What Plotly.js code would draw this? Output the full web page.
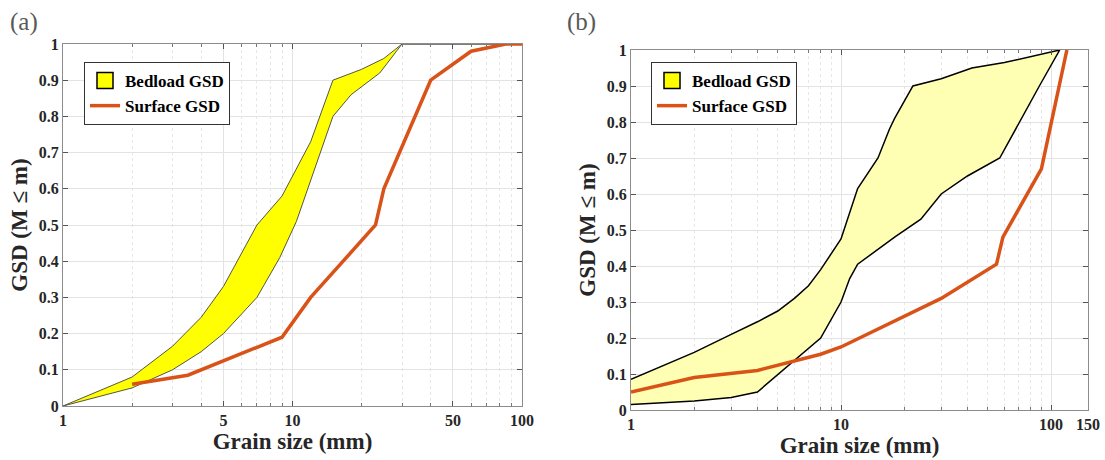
<!DOCTYPE html>
<html>
<head>
<meta charset="utf-8">
<script src="https://cdn.plot.ly/plotly-3.0.1.min.js"></script>
<style>html,body{margin:0;padding:0;background:#fff;}#chart{width:1105px;height:460px;}</style>
</head>
<body>
<div id="chart"></div>
<script>
// ---- Panel (a) data ----
const aUpperX = [1, 2, 3, 4, 5, 7, 9, 12, 15, 20, 25, 30, 100];
const aUpperY = [0, 0.08, 0.165, 0.245, 0.33, 0.5, 0.58, 0.73, 0.9, 0.93, 0.96, 1, 1];
const aLowerX = [1, 2, 3, 4, 5, 7, 8.8, 10.4, 15, 18, 24, 30, 100];
const aLowerY = [0, 0.05, 0.1, 0.15, 0.2, 0.3, 0.41, 0.51, 0.8, 0.86, 0.92, 1, 1];
const aSurfX = [2, 3.5, 9, 12, 23, 25, 40, 60, 85, 100];
const aSurfY = [0.06, 0.085, 0.19, 0.3, 0.5, 0.6, 0.9, 0.98, 1, 1];

// ---- Panel (b) data ----
const bUpperX = [1, 2, 3, 4, 5, 6, 7, 8, 10, 12, 15, 17, 18, 22, 30, 42, 60, 110];
const bUpperY = [0.085, 0.16, 0.21, 0.245, 0.275, 0.31, 0.345, 0.39, 0.475, 0.615, 0.70, 0.78, 0.81, 0.90, 0.92, 0.95, 0.965, 1];
const bLowerX = [1, 2, 3, 4, 8, 10, 11, 12, 18, 24, 30, 40, 57, 88, 110];
const bLowerY = [0.015, 0.025, 0.035, 0.05, 0.2, 0.3, 0.365, 0.405, 0.48, 0.53, 0.6, 0.65, 0.70, 0.9, 1];
const bSurfX = [1, 2, 4, 6, 8, 10, 30, 55, 59, 90, 119];
const bSurfY = [0.05, 0.09, 0.11, 0.135, 0.155, 0.175, 0.31, 0.405, 0.48, 0.67, 1];

// ---- Labels / ticks ----
const seriesNames = ["Bedload GSD", "Surface GSD"];
const panelLabels = ["(a)", "(b)"];
const xTitle = "Grain size (mm)";
const yTitle = "GSD (M \u2264 m)";
const aXTicks = [1, 5, 10, 50, 100];
const bXTicks = [1, 10, 100, 150];
const minorA = [2, 3, 4, 6, 7, 8, 9, 20, 30, 40, 60, 70, 80, 90];
const minorB = [2, 3, 4, 5, 6, 7, 8, 9, 20, 30, 40, 50, 60, 70, 80, 90];

function band(ux, uy, lx, ly) {
  return {
    x: ux.concat(lx.slice().reverse()),
    y: uy.concat(ly.slice().reverse())
  };
}

const orange = '#D95319';
const pa = band(aUpperX, aUpperY, aLowerX, aLowerY);
const pb = band(bUpperX, bUpperY, bLowerX, bLowerY);

function legendSquare(xa, ya, leg) {
  return {x: [null], y: [null], type: 'scatter', mode: 'markers', name: seriesNames[0],
          marker: {symbol: 'square', size: 17, color: '#FFFF00', line: {color: '#000', width: 1.5}},
          xaxis: xa, yaxis: ya, legend: leg, hoverinfo: 'skip'};
}

const traces = [
  {x: pa.x, y: pa.y, type: 'scatter', mode: 'lines', fill: 'toself',
   fillcolor: '#FFFF00', line: {color: '#55554a', width: 1}, name: seriesNames[0],
   xaxis: 'x', yaxis: 'y', showlegend: false, hoverinfo: 'skip'},
  legendSquare('x', 'y', 'legend'),
  {x: aSurfX, y: aSurfY, type: 'scatter', mode: 'lines',
   line: {color: orange, width: 3.5}, name: seriesNames[1],
   xaxis: 'x', yaxis: 'y', legend: 'legend'},
  {x: pb.x, y: pb.y, type: 'scatter', mode: 'lines', fill: 'toself',
   fillcolor: '#FFFFB3', line: {color: '#000000', width: 1.5}, name: seriesNames[0],
   xaxis: 'x2', yaxis: 'y2', showlegend: false, hoverinfo: 'skip'},
  legendSquare('x2', 'y2', 'legend2'),
  {x: bSurfX, y: bSurfY, type: 'scatter', mode: 'lines',
   line: {color: orange, width: 3.5}, name: seriesNames[1],
   xaxis: 'x2', yaxis: 'y2', legend: 'legend2'}
];

const tickFont = {family: 'Liberation Serif', size: 16, weight: 'bold', color: '#262626'};
const titleFont = {family: 'Liberation Serif', size: 23, weight: 'bold', color: '#262626'};
const legFont = {family: 'Liberation Serif', size: 17, weight: 'bold', color: '#000'};

function xAxis(domain, ticks, minorVals, rng, anchor) {
  return {
    type: 'log', domain: domain, range: rng, anchor: anchor,
    tickvals: ticks, ticktext: ticks.map(String),
    ticks: 'inside', ticklen: 5, tickcolor: '#555',
    showline: true, linecolor: '#8c8c8c', linewidth: 1, mirror: 'ticks',
    showgrid: true, gridcolor: '#e3e3e3', gridwidth: 1,
    minor: {tickvals: minorVals, ticks: 'inside', ticklen: 3, tickcolor: '#777',
            showgrid: true, gridcolor: '#e6e6e6', griddash: 'dot', gridwidth: 1},
    zeroline: false, tickfont: tickFont,
    title: {text: xTitle, font: titleFont, standoff: 4}
  };
}
function yAxis(domain, anchor) {
  return {
    domain: domain, range: [0, 1], anchor: anchor, dtick: 0.1, tick0: 0,
    ticks: 'inside', ticklen: 5, tickcolor: '#555',
    showline: true, linecolor: '#8c8c8c', linewidth: 1, mirror: 'ticks',
    showgrid: true, gridcolor: '#e3e3e3', gridwidth: 1,
    zeroline: false, tickfont: tickFont,
    title: {text: yTitle, font: titleFont, standoff: 4}
  };
}

const layout = {
  width: 1105, height: 460,
  margin: {l: 0, r: 0, t: 0, b: 0},
  paper_bgcolor: '#ffffff', plot_bgcolor: '#ffffff',
  showlegend: true,
  xaxis: xAxis([63/1105, 522/1105], aXTicks, minorA, [0, 2], 'y'),
  yaxis: yAxis([54/460, 416/460], 'x'),
  xaxis2: xAxis([631/1105, 1088/1105], bXTicks, minorB, [0, Math.log10(150)], 'y2'),
  yaxis2: yAxis([50/460, 410/460], 'x2'),
  legend: {x: 84/1105, y: 398/460, xanchor: 'left', yanchor: 'top',
           bgcolor: '#ffffff', bordercolor: '#333', borderwidth: 1, font: legFont,
           itemwidth: 30, tracegroupgap: 0},
  legend2: {x: 651/1105, y: 398/460, xanchor: 'left', yanchor: 'top',
            bgcolor: '#ffffff', bordercolor: '#333', borderwidth: 1, font: legFont,
            itemwidth: 30, tracegroupgap: 0},
  annotations: [
    {text: panelLabels[0], xref: 'paper', yref: 'paper', x: 8/1105, y: 438/460,
     xanchor: 'left', yanchor: 'middle', showarrow: false,
     font: {family: 'Liberation Serif', size: 25, color: '#595959'}},
    {text: panelLabels[1], xref: 'paper', yref: 'paper', x: 565/1105, y: 438/460,
     xanchor: 'left', yanchor: 'middle', showarrow: false,
     font: {family: 'Liberation Serif', size: 25, color: '#595959'}}
  ]
};

Plotly.newPlot('chart', traces, layout, {staticPlot: true, displayModeBar: false});
</script>
</body>
</html>
